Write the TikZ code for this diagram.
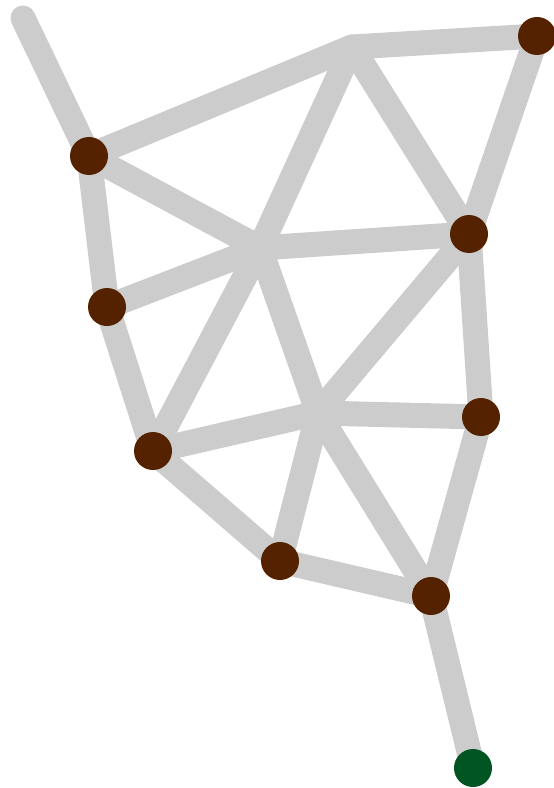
\documentclass[tikz,border=0pt]{standalone}
\usepackage{xcolor}
\usepackage{tikz}
\usetikzlibrary{backgrounds}

\definecolor{edgegray}{HTML}{CCCCCC}
\definecolor{dotbrown}{HTML}{552200}
\definecolor{dotgreen}{HTML}{005522}

\tikzset{
  dot/.style={circle, fill=dotbrown, inner sep=0pt, minimum size=1.14cm},
  enddot/.style={dot, fill=dotgreen},
  rib/.style={draw=edgegray, line width=0.75cm, line cap=round, line join=round}
}

\begin{document}
\begin{tikzpicture}[x=0.03cm, y=-0.03cm]
\useasboundingbox (0,0) rectangle (553,788);
% junctions without a dot
\coordinate (tip) at (23,18);
\coordinate (top) at (352,47);
\coordinate (mid) at (260,248);
\coordinate (low) at (318,413);
% dots
\node[dot] (a) at (89,156) {};
\node[dot] (b) at (107,307) {};
\node[dot] (c) at (153,451) {};
\node[dot] (d) at (280,561) {};
\node[dot] (e) at (431,596) {};
\node[dot] (g) at (481,417) {};
\node[dot] (h) at (469,234) {};
\node[dot] (i) at (537,36) {};
\node[enddot] (f) at (473,768) {};
\begin{scope}[on background layer]
\draw[rib] (tip) -- (a.center);
\draw[rib] (a.center) -- (top) -- (i.center) -- (h.center);
\draw[rib] (top) -- (h.center);
\draw[rib] (top) -- (mid);
\draw[rib] (a.center) -- (mid) -- (h.center);
\draw[rib] (a.center) -- (b.center) -- (mid);
\draw[rib] (b.center) -- (c.center) -- (mid) -- (low);
\draw[rib] (h.center) -- (low);
\draw[rib] (c.center) -- (low) -- (g.center);
\draw[rib] (h.center) -- (g.center) -- (e.center);
\draw[rib] (low) -- (d.center);
\draw[rib] (low) -- (e.center);
\draw[rib] (c.center) -- (d.center) -- (e.center) -- (f.center);
\end{scope}
\end{tikzpicture}
\end{document}
